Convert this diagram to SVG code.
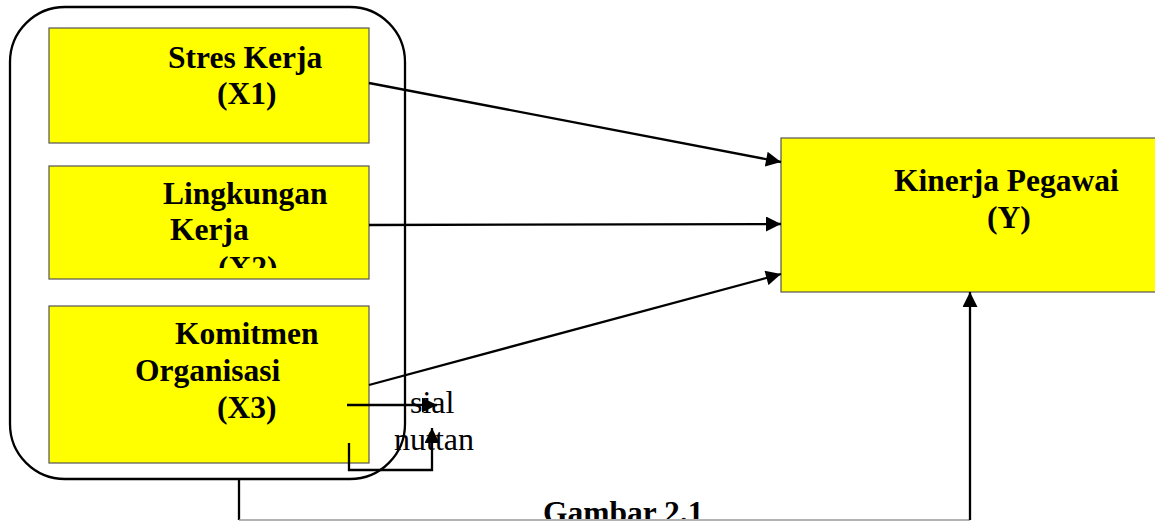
<svg xmlns="http://www.w3.org/2000/svg" width="1155" height="521" viewBox="0 0 1155 521">
<style>
.box{fill:#ffff00;stroke:#555;stroke-width:1.2}
.t{font-family:"Liberation Serif","Times New Roman",serif;font-weight:bold;font-size:31.5px;fill:#000}
.n{font-family:"Liberation Serif","Times New Roman",serif;font-size:32px;fill:#000}
.c{fill:none;stroke:#000;stroke-width:2.3}
</style>
<defs>
<marker id="ah" viewBox="0 0 10 10" refX="10" refY="5" markerWidth="16" markerHeight="15" markerUnits="userSpaceOnUse" orient="auto">
<path d="M0,0 L10,5 L0,10 Z" fill="#000"/>
</marker>
<clipPath id="clipX2"><rect x="49" y="166" width="320" height="102"/></clipPath>
<clipPath id="clipBottom"><rect x="0" y="0" width="1155" height="519"/></clipPath>
</defs>
<g id="group-frame">
<rect x="10" y="7" width="395" height="472" rx="55" ry="55" fill="none" stroke="#000" stroke-width="2.3"/>
</g>
<g id="node-x1">
<rect class="box" x="49" y="28" width="320" height="115"/>
<text class="t" x="168" y="68">Stres Kerja</text>
<text class="t" x="217" y="104">(X1)</text>
</g>
<g id="node-x2">
<rect class="box" x="49" y="166" width="320" height="113"/>
<text class="t" x="163" y="204">Lingkungan</text>
<text class="t" x="170" y="240">Kerja</text>
<text class="t" x="218" y="278" clip-path="url(#clipX2)">(X2)</text>
</g>
<g id="node-x3">
<rect class="box" x="49" y="306" width="320" height="157"/>
<text class="t" x="175" y="344">Komitmen</text>
<text class="t" x="135" y="381">Organisasi</text>
<text class="t" x="217" y="418">(X3)</text>
</g>
<g id="node-y">
<rect class="box" x="781" y="138" width="380" height="154"/>
<text class="t" x="894" y="191">Kinerja Pegawai</text>
<text class="t" x="987" y="228">(Y)</text>
</g>
<g id="labels">
<text class="n" x="410" y="413">sial</text>
<text class="n" x="394" y="450">nuttan</text>
<text class="t" x="543" y="523" clip-path="url(#clipBottom)">Gambar 2.1</text>
</g>
<g id="connectors">
<line class="c" x1="369" y1="83" x2="781" y2="162" marker-end="url(#ah)"/>
<line class="c" x1="369" y1="225" x2="781" y2="224" marker-end="url(#ah)"/>
<line class="c" x1="369" y1="385" x2="781" y2="274" marker-end="url(#ah)"/>
<line class="c" x1="347" y1="405" x2="437" y2="405" marker-end="url(#ah)"/>
<polyline class="c" points="349,443 349,470 432,470 432,428" marker-end="url(#ah)"/>
<line class="c" x1="239" y1="479" x2="239" y2="520"/>
<line x1="239" y1="520" x2="970" y2="520" stroke="#999" stroke-width="1.5"/>
<line class="c" x1="970" y1="520" x2="970" y2="292" marker-end="url(#ah)"/>
</g>
</svg>
